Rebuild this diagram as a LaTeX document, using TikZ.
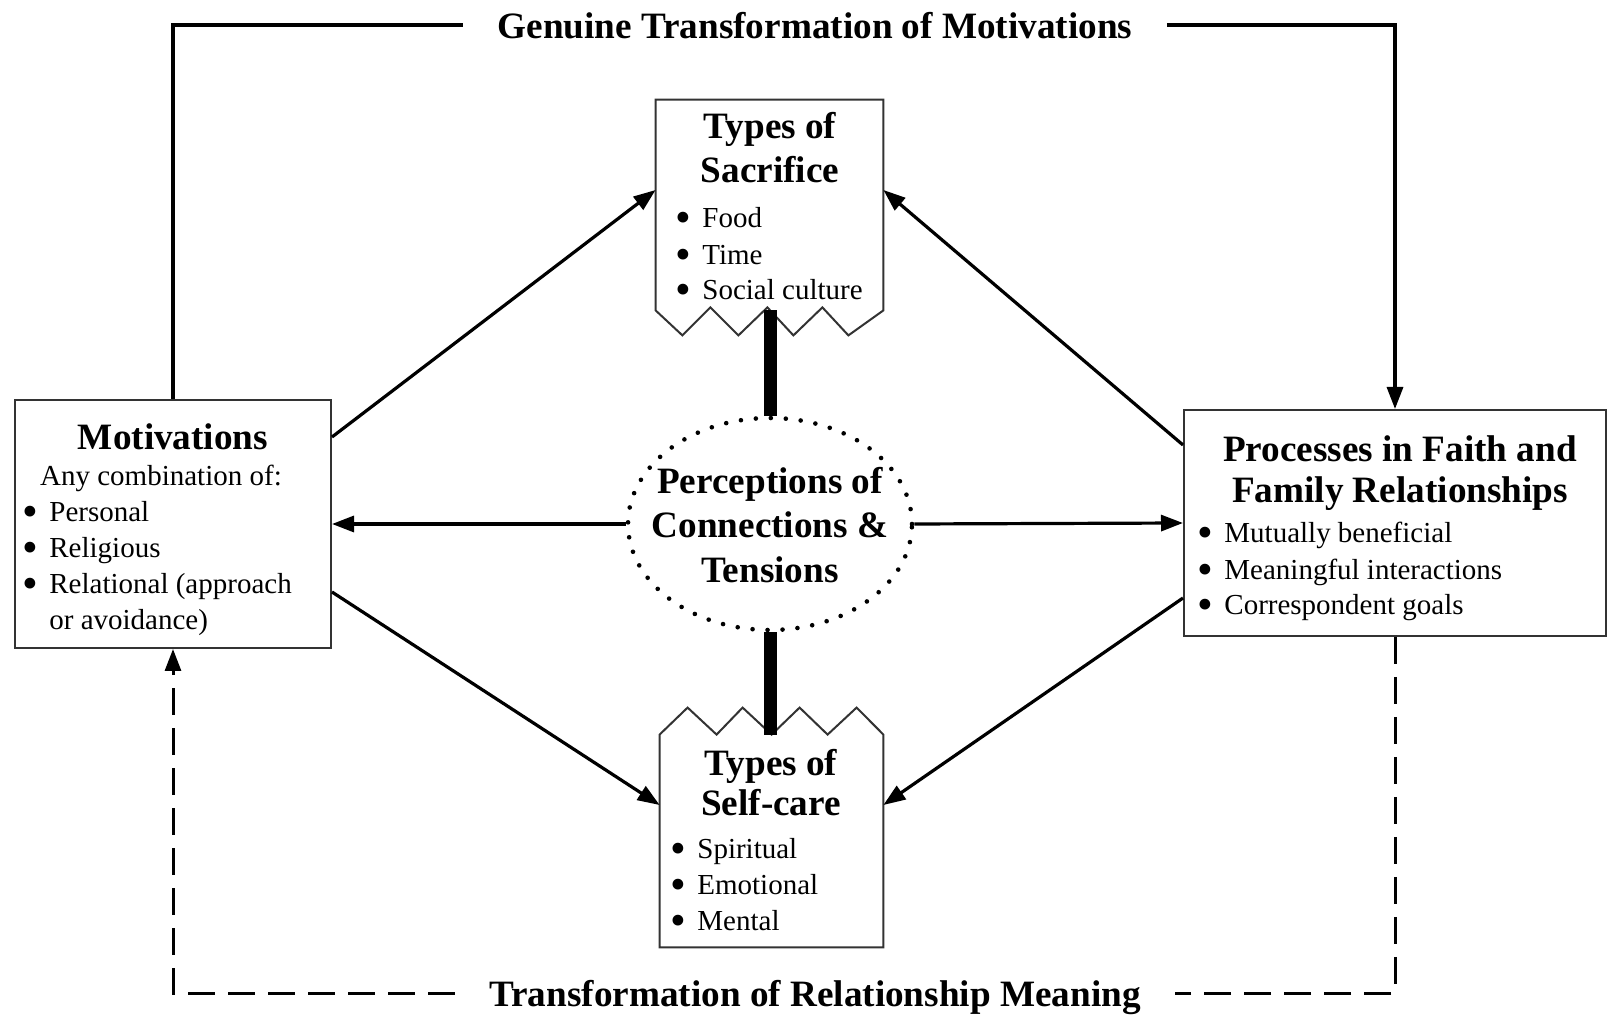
\documentclass[tikz,border=0pt]{standalone}
\usepackage{fontspec}
\setmainfont{Liberation Serif}
\usepackage{tikz}
\usetikzlibrary{arrows.meta,shapes.geometric}

\newcommand{\itm}{\makebox[13.5pt][l]{\raisebox{-2.4pt}[0pt][0pt]{\scalebox{1.55}{\textbullet}}}}

\begin{document}
\begin{tikzpicture}[x = 0.5pt, y = -0.5pt, >={Triangle[length=11pt, width=8pt]},
    box/.style = {draw = black!80, line width = 1pt, inner sep = 0pt},
    title/.style = {inner sep = 0pt, anchor = base, font = \fontsize{18.6}{21.5}\selectfont\bfseries},
    entry/.style = {inner sep = 0pt, anchor = base west, font = \fontsize{14.5}{18}\selectfont},
    conn/.style = {line width = 1.6pt},
    fback/.style = {line width = 1.5pt, dash pattern = on 13.5pt off 6.5pt},
    bar/.style = {line width = 6.5pt}]
    \useasboundingbox (0,0) rectangle (1608,1015);

    % Cajas principales (los bordes en zigzag se dibujan aparte):
    \node[box, minimum width = 158pt, minimum height = 124pt] (mot) at (173,524) {};
    \node[box, minimum width = 211pt, minimum height = 113pt] (proc) at (1395,523) {};
    \node[inner sep = 0pt, minimum width = 113.5pt, minimum height = 105pt] (sacr) at (769.5,205) {};
    \node[inner sep = 0pt, minimum width = 111.5pt, minimum height = 106pt] (self) at (771.5,841) {};
    \node[ellipse, draw, inner sep = 0pt, minimum width = 142pt, minimum height = 106pt,
        line width = 2.3pt, line cap = round, dash pattern = on 0pt off 7.5pt] (percep) at (770,524) {};

    % Sacrificio: borde inferior roto.
    \draw[box] (sacr.south west) -- (sacr.north west) -- (sacr.north east) -- (sacr.south east)
        -- ++(-35,25) -- ++(-26,-28) -- ++(-29,28) -- ++(-26,-28) -- ++(-29,28) -- ++(-28,-28) -- ++(-28,28) -- cycle;
    % Autocuidado: borde superior roto.
    \draw[box] (self.south west) -- (self.north west) -- ++(28,-27) -- ++(29,27) -- ++(26,-27) -- ++(29,27)
        -- ++(28,-27) -- ++(28,27) -- ++(29,-27) -- (self.north east) -- (self.south east) -- cycle;

    % Textos de las cajas:
    \node[title] (motT) at (173,450) {Motivations};
    \node[entry, anchor = base] (motA) at (161,486) {Any combination of:};
    \node[entry] (mot1) at (22,522) {\itm Personal};
    \node[entry] (mot2) at (22,558) {\itm Religious};
    \node[entry] (mot3) at (22,594) {\itm Relational (approach};
    \node[entry] (mot4) at (49,630) {or avoidance)};

    \node[title] (sacrT) at (770,139) {Types of};
    \node[title] (sacrS) at (770,183) {Sacrifice};
    \node[entry] (sacr1) at (675,228) {\itm Food};
    \node[entry] (sacr2) at (675,265) {\itm Time};
    \node[entry] (sacr3) at (675,300) {\itm Social culture};

    \node[title] (selfT) at (771,776) {Types of};
    \node[title] (selfS) at (771,816) {Self-care};
    \node[entry] (self1) at (670,859) {\itm Spiritual};
    \node[entry] (self2) at (670,895) {\itm Emotional};
    \node[entry] (self3) at (670,931) {\itm Mental};

    \node[title] (procT) at (1400,462) {Processes in Faith and};
    \node[title] (procF) at (1400,503) {Family Relationships};
    \node[entry] (proc1) at (1197,543) {\itm Mutually beneficial};
    \node[entry] (proc2) at (1197,580) {\itm Meaningful interactions};
    \node[entry] (proc3) at (1197,615) {\itm Correspondent goals};

    \node[inner sep = 0pt, align = center, font = \fontsize{18.6}{22.25}\selectfont\bfseries] (percepT) at (770,525)
        {Perceptions of\\Connections \&\\Tensions};

    % Rotulos de los lazos de retroalimentacion:
    \node[title, anchor = center, inner xsep = 17pt, text depth = 0pt] (genuine) at (815,25) {Genuine Transformation of Motivations};
    \node[title, anchor = center, inner xsep = 17pt, text depth = 0pt] (transf) at (815,993) {Transformation of Relationship Meaning};

    % Flechas:
    \draw[conn, ->] ([yshift = 43.5pt]mot.east) -- ([yshift = 7.5pt]sacr.west);
    \draw[conn, ->] ([yshift = 39pt]proc.west) -- ([yshift = 7.5pt]sacr.east);
    \draw[conn, ->] (percep.west) -- (mot.east);
    \draw[conn, ->] (percep.east) -- (proc.west);
    \draw[conn, ->] ([yshift = -34pt]mot.east) -- ([yshift = 18pt]self.west);
    \draw[conn, ->] ([yshift = -37.5pt]proc.west) -- ([yshift = 18pt]self.east);

    \draw[bar] (percep.north) -- (percep.north |- sacr.south);
    \draw[bar] (percep.south) -- (percep.south |- self.north);

    \draw[conn] (mot.north) |- (genuine.west);
    \draw[conn, ->] (genuine.east) -| (proc.north);
    \draw[fback] (proc.south) |- (transf.east);
    \draw[fback, ->] (transf.west) -| (mot.south);
\end{tikzpicture}
\end{document}
